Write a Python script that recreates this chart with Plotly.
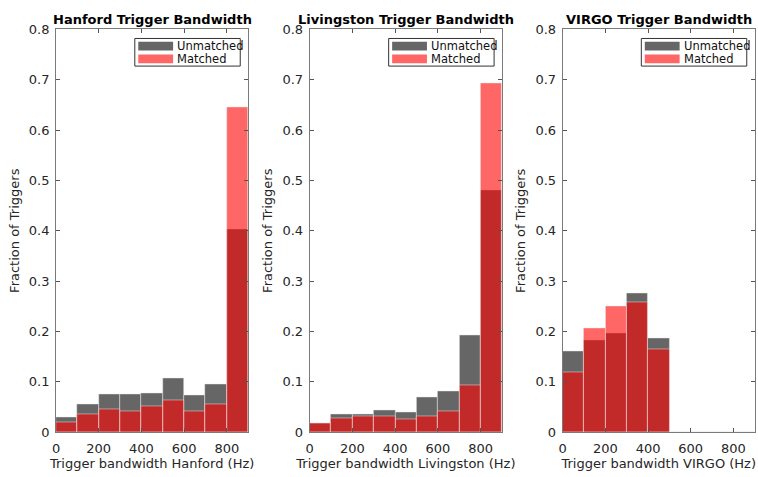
import plotly.graph_objects as go

bin_centers = [50, 150, 250, 350, 450, 550, 650, 750, 850]

hanford_unmatched = [0.030, 0.055, 0.075, 0.076, 0.078, 0.108, 0.074, 0.096, 0.402]
hanford_matched = [0.019, 0.035, 0.046, 0.041, 0.051, 0.064, 0.041, 0.056, 0.645]

livingston_unmatched = [0.018, 0.035, 0.035, 0.043, 0.040, 0.070, 0.082, 0.193, 0.481]
livingston_matched = [0.018, 0.028, 0.031, 0.032, 0.026, 0.031, 0.041, 0.093, 0.692]

virgo_unmatched = [0.160, 0.183, 0.1955, 0.276, 0.187, 0, 0, 0, 0]
virgo_matched = [0.119, 0.206, 0.251, 0.258, 0.164, 0, 0, 0, 0]

titles = ["Hanford Trigger Bandwidth", "Livingston Trigger Bandwidth", "VIRGO Trigger Bandwidth"]
xlabels = ["Trigger bandwidth Hanford (Hz)", "Trigger bandwidth Livingston (Hz)", "Trigger bandwidth VIRGO (Hz)"]
legend_labels = ["Unmatched", "Matched"]
x_ticks = [0, 200, 400, 600, 800]
y_ticks = [0, 0.1, 0.2, 0.3, 0.4, 0.5, 0.6, 0.7, 0.8]
y_ticklabels = ["0", "0.1", "0.2", "0.3", "0.4", "0.5", "0.6", "0.7", "0.8"]

GRAY = "rgb(102,102,102)"
RED = "rgba(255,0,0,0.6)"
RED_LEG = "rgb(255,102,102)"
FONT = "DejaVu Sans"
TXT = "#262626"
W, H = 758, 477

panels = [
    (hanford_unmatched, hanford_matched),
    (livingston_unmatched, livingston_matched),
    (virgo_unmatched, virgo_matched),
]
px_left = [52.3, 307.3, 561.7]
px_right = [245.5, 500.7, 754.7]
plot_top, plot_bottom = 23, 439


def px(xp):
    return xp / W


def py(yp):
    return 1 - yp / H


fig = go.Figure()
shapes = []
for i, (unm, mat) in enumerate(panels):
    sfx = "" if i == 0 else str(i + 1)
    xa, ya = "x" + sfx, "y" + sfx
    edge = dict(width=0.6, color="rgba(235,235,235,0.8)")
    fig.add_trace(go.Bar(x=bin_centers, y=unm, width=100, name=legend_labels[0],
                         marker=dict(color=GRAY, line=edge), xaxis=xa, yaxis=ya, showlegend=False))
    fig.add_trace(go.Bar(x=bin_centers, y=mat, width=100, name=legend_labels[1],
                         marker=dict(color=RED, line=edge), xaxis=xa, yaxis=ya, showlegend=False))

    dom_x = [px(px_left[i]), px(px_right[i])]
    dom_y = [py(plot_bottom), py(plot_top)]
    axis_common = dict(showline=True, linecolor="#7a7a7a", linewidth=1, mirror="ticks",
                       ticks="inside", tickcolor="#555", ticklen=4, showgrid=False, zeroline=False,
                       tickfont=dict(family=FONT, size=13, color=TXT))
    fig.layout["xaxis" + sfx] = dict(domain=dom_x, range=[0, 900], tickvals=x_ticks, ticklabelstandoff=4,
                                     title=dict(text=xlabels[i], font=dict(family=FONT, size=13, color=TXT), standoff=3),
                                     anchor=ya, **axis_common)
    fig.layout["yaxis" + sfx] = dict(domain=dom_y, range=[0, 0.8], tickvals=y_ticks, ticktext=y_ticklabels,
                                     ticklabelstandoff=3,
                                     title=dict(text="Fraction of Triggers", font=dict(family=FONT, size=13, color=TXT), standoff=6),
                                     anchor=xa, **axis_common)
    fig.add_annotation(text="<b>" + titles[i] + "</b>", x=px((px_left[i] + px_right[i]) / 2),
                       y=py(12.5), xref="paper", yref="paper", showarrow=False,
                       font=dict(family=FONT, size=13, color="black"), xanchor="center", yanchor="middle")

    # legend box (drawn)
    r = px_right[i]
    shapes.append(dict(type="rect", xref="paper", yref="paper", x0=px(r - 114), x1=px(r - 8),
                       y0=py(61), y1=py(32.5), line=dict(color="#333", width=1), fillcolor="white", layer="above"))
    for j, (col, lab) in enumerate(zip([GRAY, RED_LEG], legend_labels)):
        yc = 40.5 + 13 * j
        shapes.append(dict(type="rect", xref="paper", yref="paper", x0=px(r - 110.5), x1=px(r - 75.5),
                           y0=py(yc + 4.5), y1=py(yc - 4.5), line=dict(width=0), fillcolor=col, layer="above"))
        fig.add_annotation(text=lab, x=px(r - 73.5), y=py(yc), xref="paper", yref="paper", showarrow=False,
                           xanchor="left", yanchor="middle", font=dict(family=FONT, size=11.5, color="#111"))

fig.update_layout(width=W, height=H, margin=dict(l=0, r=0, t=0, b=0), barmode="overlay", bargap=0,
                  plot_bgcolor="white", paper_bgcolor="white", font=dict(family=FONT), showlegend=False,
                  shapes=shapes)
fig.write_html("out.html")
